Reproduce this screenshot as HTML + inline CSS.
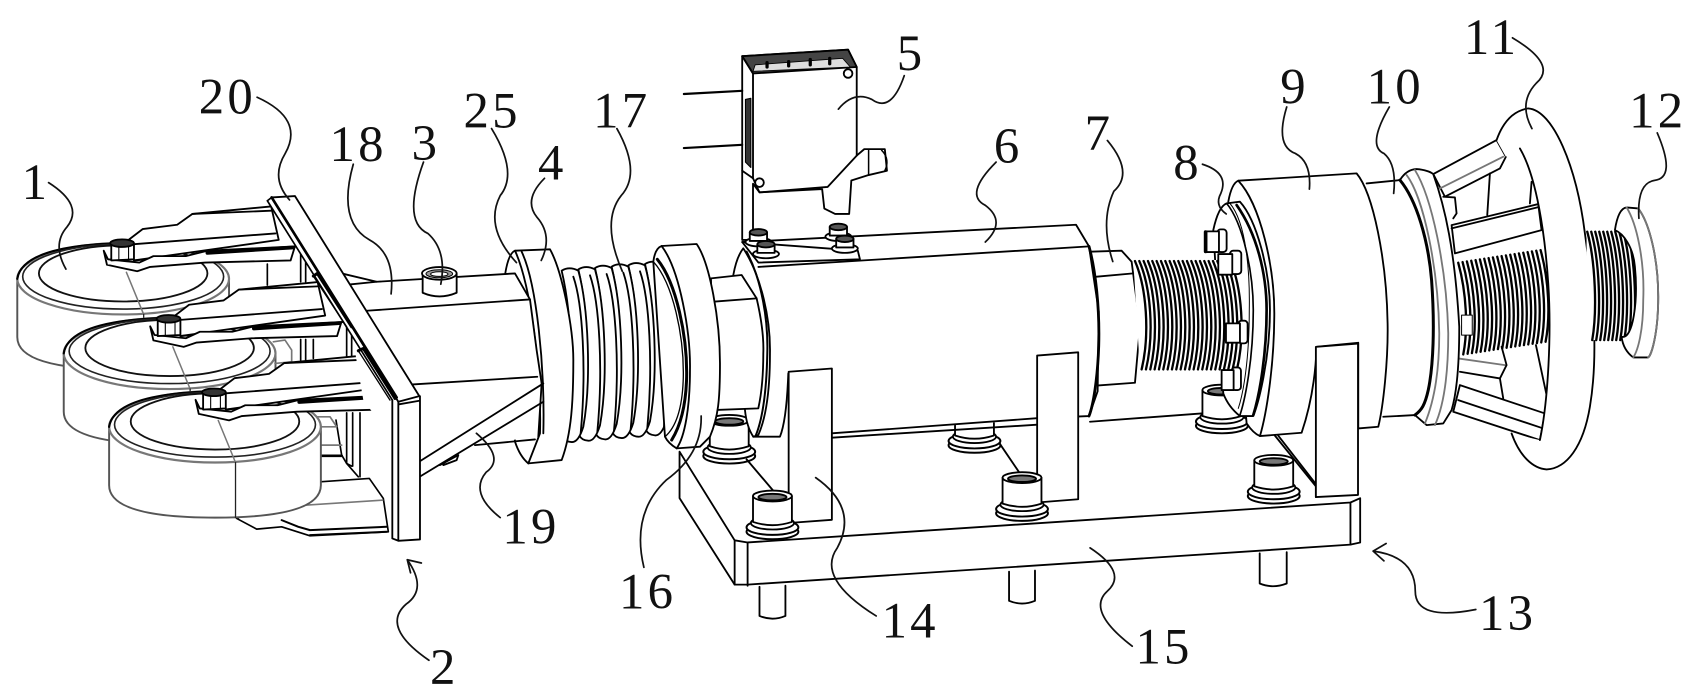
<!DOCTYPE html>
<html><head><meta charset="utf-8"><style>
html,body{margin:0;padding:0;background:#fff}
svg{display:block}
text{font-family:"Liberation Serif",serif;font-size:47px;fill:#111;stroke:none;letter-spacing:3px}
</style></head><body>
<svg width="1694" height="697" viewBox="0 0 1568 645" preserveAspectRatio="none" xmlns="http://www.w3.org/2000/svg">
<rect width="1568" height="645" fill="#fff"/>
<defs>
<g id="wheel">
<path d="M16 258V312Q16 342 114 342Q212 342 212 312V258" fill="#fff" stroke="#555" stroke-width="1.8"/>
<ellipse cx="114" cy="258" rx="98" ry="33" fill="#fff" stroke="#777" stroke-width="2"/>
<path d="M16 258C20 232 70 226 114 225" fill="none" stroke="#000" stroke-width="2"/>
<ellipse cx="114" cy="256" rx="93" ry="30" fill="none" stroke="#222" stroke-width="1.5"/>
<ellipse cx="114" cy="253" rx="78" ry="26" fill="#fff" stroke="#111" stroke-width="1.7"/>
<path d="M117 252L133 291" fill="none" stroke="#777" stroke-width="1.4"/>
<path d="M133 291V342" fill="none" stroke="#222" stroke-width="1.2"/>
</g>
<g id="arm">
<path d="M119 222L132 212L164 208L178 198L251 191L258 222L124 241Z" fill="#fff"/>
<path d="M124 226L255 216M124 241L274 228M178 198L251 195" fill="none"/>
<path d="M96 232L99 245L127 251L139 247L190 243L269 241L273 228L192 232L172 237L142 237L129 243L100 240Z" fill="#fff"/>
<path d="M192 234L271 229" stroke="#000" stroke-width="3.5" fill="none"/>
<path d="M103 227L124 226V240L103 241Z" fill="#fff"/>
<ellipse cx="113" cy="225" rx="11" ry="3.5" fill="#333"/>
<path d="M110 228V240M119 228V240" fill="none" stroke-width="1"/>
</g>
<g id="bolt">
<ellipse cx="0" cy="37" rx="24" ry="7" fill="#fff" stroke-width="1.8"/>
<ellipse cx="0" cy="33" rx="24" ry="7" fill="#fff" stroke-width="1.8"/>
<ellipse cx="0" cy="29" rx="20" ry="6" fill="#fff"/>
<path d="M-18 4V28Q0 34 18 28V4Z" fill="#fff"/>
<ellipse cx="0" cy="4" rx="18" ry="5" fill="#fff"/>
<ellipse cx="0" cy="5" rx="13" ry="3" fill="#777"/>
</g>
<g id="sb">
<ellipse cx="0" cy="10" rx="12" ry="4" fill="#fff"/>
<path d="M-8 1V9H8V1Z" fill="#fff"/>
<ellipse cx="0" cy="1" rx="8" ry="3" fill="#555"/>
</g>
<g id="conv">
<path d="M295 152Q318 138 345 152C375 260 385 480 360 620Q345 668 325 666Q305 665 298 650C330 500 330 300 295 152Z" fill="#fff"/>
<path d="M330 170C358 250 370 450 352 640" fill="none"/>
</g>
</defs>
<g fill="none" stroke="#000" stroke-width="1.7" stroke-linejoin="round" stroke-linecap="round">

<!-- wheels, forks, columns -->
<g transform="translate(212.9 175.9) scale(.3085)" stroke-width="5">
<path d="M112 222V285M212 190V275M227 190V275"/>
</g>
<use href="#wheel"/>
<use href="#arm"/>
<g transform="translate(212.9 175.9) scale(.3085)" stroke-width="5">
<path d="M350 410V500M365 410V500"/>
</g>
<use href="#wheel" transform="translate(43 69)"/>
<use href="#arm" transform="translate(43 70)"/>
<g transform="translate(212.9 175.9) scale(.3085)" stroke-width="5">
<path d="M212 448V510M227 448V510M250 448V505"/>
<path d="M130 455L165 450L185 480V515L135 520" stroke="#777"/>
<path d="M350 668V820L365 828M368 668V828M390 668V860"/>
<path d="M318 690L335 795L350 820L385 860"/>
<path d="M260 680H300L320 710H275M275 765H335" stroke="#777"/>
<path d="M275 797L335 797" stroke-width="8"/>
<path d="M270 875L418 865L460 925L475 1025L240 1037L155 1010L80 1017L20 985Z" fill="#fff"/>
<path d="M150 950L458 930" stroke="#777"/>
<path d="M155 990L205 1010L240 1020L470 1010M240 1035L470 1025" stroke-width="6"/>
</g>
<use href="#wheel" transform="translate(85 137)"/>
<use href="#arm" transform="translate(85 138)"/>

<!-- base plate -->
<path d="M629 418L692 502H1250L1259 461V502L692 542H680L629 461Z" fill="#fff" stroke="none"/>
<path d="M629 418V461L680 541H692L1250 504L1259 502V461L1250 465L692 502L680 500L629 418Z" fill="#fff"/>
<path d="M680 500V541M692 502V542M1250 465V504"/>
<path d="M703 543V570Q715 575 727 570V542M934 529V556Q946 561 958 556V528M1166 512V540Q1178 545 1191 540V511" fill="#fff"/>

<!-- rear bolts -->
<use href="#bolt" transform="translate(675 385)"/>
<use href="#bolt" transform="translate(902 375)"/>
<path d="M691 425L725 465M925 410L944 438M1180 403L1218 450"/>
<use href="#bolt" transform="translate(1131 357)"/>

<!-- shaft 7 -->
<g transform="translate(1008.9 148.1) scale(.3085)" stroke-width="5.5">
<path d="M0 275L95 272L125 305L150 500L135 668L0 678Z" fill="#fff"/>
<path d="M20 350L130 340M0 785L335 760"/>
</g>

<!-- housing 6 -->
<path d="M687 224L996 208L1008 228L1017 288L1016 362L1008 385L770 401L723 403L703 405L690 330Z" fill="#fff" stroke="none"/>
<path d="M687 224L996 208L1008 228L1017 288L1016 362L1008 385L960 387M770 401L960 387"/>
<path d="M702 247L1008 228M770 405L960 393"/>
<path d="M1008 228C1014 250 1018 285 1017 320C1016 350 1012 375 1008 385" stroke-width="2.6"/>

<!-- region A: bellows, rings, flange 16, tube -->
<g transform="translate(444.3 203.6) scale(.3085)" stroke-width="5.5">
<path d="M925 460Q920 600 900 650L820 650" fill="#fff"/>
<path d="M760 165Q770 110 790 85C845 170 872 300 870 400C870 520 855 600 835 645L820 650Q800 620 795 570Z" fill="#fff"/>
<path d="M800 95C845 180 865 300 862 400C860 500 850 590 828 645" stroke-width="6"/>
<path d="M693 175L785 165L830 235C845 300 852 350 850 400C850 470 845 520 835 565L700 570Z" fill="#fff"/>
<path d="M700 245L830 235"/>
<use href="#conv" transform="translate(200 -20)"/>
<use href="#conv" transform="translate(150 -16)"/>
<use href="#conv" transform="translate(100 -12)"/>
<use href="#conv" transform="translate(50 -8)"/>
<use href="#conv" transform="translate(0 -4)"/>
<use href="#conv" transform="translate(-50 0)"/>
<path d="M520 125Q525 85 545 78L650 72C690 130 720 300 720 430C720 540 715 590 690 650L660 680L590 685Q565 670 555 650L520 125Z" fill="#fff"/>
<path d="M545 78C600 150 632 340 630 450C630 560 615 650 590 685"/>
<path d="M532 118C590 190 622 350 620 470C618 560 600 620 575 660" stroke-width="9"/>
<path d="M520 125C580 190 612 350 610 470C608 560 590 620 555 650" stroke-width="4"/>
<!-- ring 4 -->
<path d="M75 165Q85 100 105 92L210 88C245 150 280 320 280 420C280 540 275 640 245 720L145 730Q120 710 105 665Z" fill="#fff"/>
<path d="M105 92C150 190 185 440 180 640L145 730"/>
<path d="M125 95C170 190 195 440 190 640"/>
</g>

<!-- sensor 5 -->
<path d="M687 52L785 46L793 62V144L800 138H819L821 158L804 162L788 167L786 198H773L763 193L761 175L703 178L697 170L697 222H687Z" fill="#fff"/>
<path d="M687 52L785 46L793 62L697 68Z" fill="#444"/>
<path d="M697 66L699 60L780 54L787 62Z" fill="#ddd" stroke-width=".8"/>
<path d="M710 58V62M730 57V61M750 55V60M768 54V59" stroke="#000" stroke-width="3"/>
<path d="M687 52L697 68V165L687 158"/>
<path d="M690 92L695 91V155L690 150Z" fill="#333" stroke-width="1"/>
<path d="M697 165L703 178L766 173L793 144"/>
<path d="M804 139V162M816 139C822 145 822 152 819 158" stroke-width="1.4"/>
<circle cx="785" cy="68" r="4" fill="#fff"/><circle cx="703" cy="169" r="4" fill="#fff"/>
<path d="M633 87L687 84M633 137L687 134" stroke-width="2"/>
<path d="M687 224L702 243L796 240L794 232L687 224Z" fill="#fff"/>
<use href="#sb" transform="translate(702 214)"/>
<use href="#sb" transform="translate(709 225)"/>
<use href="#sb" transform="translate(776 209)"/>
<use href="#sb" transform="translate(782 220)"/>

<!-- brackets and front bolts -->
<path d="M730 344L770 341V481L730 484Z" fill="#fff"/>
<path d="M960 329L998 326V462L960 465Z" fill="#fff"/>
<use href="#bolt" transform="translate(715 455)"/>
<use href="#bolt" transform="translate(946 438)"/>
<use href="#bolt" transform="translate(1179 422)"/>

<!-- region D: tube 18, gusset, plate 20 -->
<g transform="translate(212.9 175.9) scale(.3085)" stroke-width="5.5">
<path d="M335 250L440 275L855 250L900 328L920 480L935 580L925 740L760 760L640 825L572 858L400 630Z" fill="#fff" stroke="none"/>
<path d="M335 250L440 275L855 250L900 328L920 480L935 580L925 740"/>
<path d="M360 283L440 275M410 362L900 328M548 583L922 560"/>
<path d="M572 812L940 580M572 858L940 635"/>
<path d="M735 765L915 748M630 825L685 795L680 810L640 825"/>
<!-- bolt 3 -->
<path d="M578 250V308Q628 330 680 308V250Z" fill="#fff"/>
<ellipse cx="628" cy="250" rx="52" ry="19" fill="#fff"/>
<ellipse cx="628" cy="251" rx="40" ry="12" fill="#999" stroke-width="3"/>
<ellipse cx="628" cy="252" rx="26" ry="7" fill="#fff" stroke-width="3"/>
<!-- plate -->
<path d="M112 32L125 22L195 18L568 618V1048L505 1052L490 1045L487 630Z" fill="#fff" stroke="none"/>
<path d="M125 22L195 18L568 618L505 635L125 22Z"/>
<path d="M112 32L125 22M112 32L487 630" stroke-width="5"/>
<path d="M125 22L500 622" stroke-width="8"/>
<path d="M250 258L262 250L365 410M385 482L400 475L495 625" stroke-width="9"/>
<path d="M250 258L350 410M385 482L480 630" stroke-width="4"/>
<path d="M505 635V1052M487 630V1045L505 1052L570 1048V618M505 643L568 632"/>
</g>

<!-- region C: handwheel, threads, disk -->
<g transform="translate(1295.8 92.6) scale(.3085)" stroke-width="5.5">
<path d="M100 222L290 120L318 170L300 205L135 290Z" fill="#fff"/>
<path d="M120 265L310 170" stroke="#777"/>
<path d="M130 290L165 292L170 340L160 355" fill="#fff"/>
<path d="M270 220L262 345M395 245L390 310"/>
<path d="M155 375L415 312L425 390L165 460Z" fill="#fff"/>
<path d="M155 385L420 320"/>
<path d="M170 462H445V745H170Z" fill="#fff" stroke="none"/>
<path stroke-width="7" d="M175 488c25 90 30 200 15 275m-2-277c25 90 30 200 15 275m-2-277c25 90 30 200 15 275m-2-277c25 90 30 200 15 275m-2-277c25 90 30 200 15 275m-2-277c25 90 30 200 15 275m-2-277c25 90 30 200 15 275m-2-277c25 90 30 200 15 275m-2-277c25 90 30 200 15 275m-2-277c25 90 30 200 15 275m-2-277c25 90 30 200 15 275m-2-277c25 90 30 200 15 275m-2-277c25 90 30 200 15 275m-2-277c25 90 30 200 15 275m-2-277c25 90 30 200 15 275m-2-277c25 90 30 200 15 275m-2-277c25 90 30 200 15 275m-2-277c25 90 30 200 15 275m-2-277c25 90 30 200 15 275m-2-277c25 90 30 200 15 275"/>
<rect x="185" y="645" width="32" height="60" fill="#fff" stroke-width="3"/>
<path d="M180 780L315 795L300 835L180 815Z" fill="#fff" stroke="none"/>
<path d="M175 775L315 795" stroke="#777"/>
<path d="M180 815L300 835L320 795L305 740M300 835L310 895M408 735L440 885"/>
<path d="M180 855L435 940L420 1020L160 935Z" fill="#fff"/>
<path d="M175 900L430 985"/>
<!-- rim -->
<path d="M290 120Q320 35 385 25C460 30 530 200 555 400C590 650 590 800 570 920C550 1040 500 1105 440 1108C400 1105 360 1070 335 1000L420 1020C445 900 455 700 445 550C435 400 410 230 360 145L318 170Z" fill="#fff" stroke="none"/>
<path d="M290 120Q320 35 385 25C460 30 530 200 555 400C590 650 590 800 570 920C550 1040 500 1105 440 1108C400 1105 360 1070 335 1000"/>
<path d="M420 1020C445 900 455 700 445 550C435 400 410 230 360 145"/>
<!-- thread 12 -->
<path d="M560 395H720V720H560Z" fill="#fff" stroke="none"/>
<path stroke-width="7" d="M562 395c25 90 30 240 15 325m-3-325c25 90 30 240 15 325m-3-325c25 90 30 240 15 325m-3-325c25 90 30 240 15 325m-3-325c25 90 30 240 15 325m-3-325c25 90 30 240 15 325m-3-325c25 90 30 240 15 325m-3-325c25 90 30 240 15 325m-3-325c25 90 30 240 15 325m-3-325c25 90 30 240 15 325m-3-325c25 90 30 240 15 325m-3-320c20 90 25 230 12 315"/>
<path d="M645 390Q655 325 680 322L715 325C750 370 775 480 775 590C775 700 755 765 745 772L700 772Q670 750 665 710C700 720 715 600 705 500C700 440 670 400 645 390Z" fill="#fff"/>
<path d="M680 322C710 370 735 480 730 600C730 690 715 750 700 772" stroke="#777"/>
<path d="M715 325C750 370 775 480 775 590C775 700 755 765 745 772" stroke="#777"/>
<!-- disk -->
<path d="M0 240Q20 208 50 207Q85 210 100 222C135 320 165 450 178 680C178 800 170 880 155 930L130 970L80 975L45 945L0 600Z" fill="#fff"/>
<path d="M20 225C70 290 115 500 118 700C118 820 100 910 75 970" stroke="#777"/>
<path d="M45 210C95 290 140 500 145 700C145 830 130 920 105 975" stroke="#777"/>
<!-- section 10 -->
<path d="M-100 250L0 240C50 300 85 420 95 540C105 680 100 800 85 870C75 915 65 930 45 945L-50 950Z" fill="#fff" stroke="none"/>
<path d="M-100 250L0 240M-50 950L45 945"/>
<path d="M0 240C50 300 85 420 95 540C105 680 100 800 85 870C75 915 65 930 45 945" stroke-width="9"/>
</g>

<!-- region B: body 9, bracket, flange 8, thread, hex -->
<g transform="translate(1008.9 148.1) scale(.3085)" stroke-width="5.5">
<path d="M415 125Q425 70 445 62L800 40C850 100 890 300 893 490C895 600 880 740 865 800L805 805V548L680 560Q675 700 635 818L510 828Q490 820 470 790Z" fill="#fff"/>
<path d="M445 62C510 130 555 320 553 470C552 620 530 760 510 828"/>
<path d="M370 210Q385 140 410 130L450 125C500 180 540 330 540 450C540 600 505 730 490 768L450 768Q415 740 400 700Z" fill="#fff"/>
<path d="M410 130C460 190 490 340 490 450C490 600 465 720 450 765" stroke-width="5"/>
<path d="M420 130C470 190 480 340 478 450C478 600 460 700 445 745" stroke-width="3"/>
<path d="M440 135C500 220 530 340 530 450C530 580 510 700 490 765" stroke-width="8"/>
<path d="M130 300H465V630H150Z" fill="#fff" stroke="none"/>
<path stroke-width="7" d="M135 303c35 80 45 220 20 325m-7-325c35 80 45 220 20 325m-7-325c35 80 45 220 20 325m-7-325c35 80 45 220 20 325m-7-325c35 80 45 220 20 325m-7-325c35 80 45 220 20 325m-7-325c35 80 45 220 20 325m-7-325c35 80 45 220 20 325m-7-325c35 80 45 220 20 325m-7-325c35 80 45 220 20 325m-7-325c35 80 45 220 20 325m-7-325c35 80 45 220 20 325m-7-325c35 80 45 220 20 325m-7-325c35 80 45 220 20 325m-7-325c35 80 45 220 20 325m-7-325c35 80 45 220 20 325m-7-325c35 80 45 220 20 325m-7-325c35 80 45 220 20 325m-7-325c35 80 45 220 20 325m-7-325c35 80 45 220 20 325m-7-325c35 80 45 220 20 325m-7-325c35 80 45 220 20 325m-7-325c35 80 45 220 20 325"/>
<g fill="#fff">
<rect x="382" y="208" width="28" height="68" rx="10"/><rect x="345" y="214" width="42" height="62"/>
<path d="M347 216V274" stroke-width="11"/>
<rect x="420" y="272" width="34" height="70" rx="10"/><rect x="385" y="282" width="42" height="62"/>
<rect x="445" y="482" width="28" height="68" rx="10"/><rect x="408" y="490" width="42" height="58"/>
<rect x="425" y="622" width="28" height="68" rx="10"/><rect x="395" y="630" width="36" height="60"/>
</g>
</g>

<!-- right bracket -->
<path d="M1183 403L1218 448V460" />
<path d="M1218 321L1257 318V458L1218 460Z" fill="#fff"/>
</g>

<!-- leaders -->
<g fill="none" stroke="#111" stroke-width="1.6" stroke-linecap="round" stroke-linejoin="round">
<path d="M45 169Q78 190 62 210Q48 226 61 249"/>
<path d="M238 90Q282 110 264 142Q250 165 268 185"/>
<path d="M327 152Q312 205 342 222Q366 235 362 272"/>
<path d="M392 150Q372 205 396 216Q414 232 408 263"/>
<path d="M455 119Q480 160 463 181Q448 210 478 243"/>
<path d="M504 165Q484 185 497 201Q512 218 501 241"/>
<path d="M441 401Q468 424 450 437Q434 456 463 479"/>
<path d="M397 611Q352 580 376 559Q396 545 377 518M380 530L377 518L390 521"/>
<path d="M571 119Q594 160 575 181Q556 205 576 251"/>
<path d="M596 525Q584 475 617 444Q650 420 649 385"/>
<path d="M837 70Q825 105 807 92Q790 84 776 101"/>
<path d="M922 150Q892 180 912 190Q932 205 912 224"/>
<path d="M1025 130Q1050 160 1031 177Q1018 205 1030 242"/>
<path d="M811 570Q755 535 775 507Q795 470 755 442"/>
<path d="M1009 507Q1044 530 1025 547Q1005 565 1048 598"/>
<path d="M1113 152Q1138 160 1130 179Q1124 190 1135 198"/>
<path d="M1191 99Q1180 135 1199 142Q1214 150 1212 175"/>
<path d="M1286 99Q1265 135 1281 142Q1293 152 1290 179"/>
<path d="M1400 35Q1442 60 1422 77Q1405 95 1418 119"/>
<path d="M1534 123Q1552 165 1531 167Q1515 170 1517 202"/>
<path d="M1366 564Q1310 575 1310 547Q1310 515 1271 510M1283 503L1271 510L1281 519"/>
</g>

<!-- labels -->
<text x="20" y="184">1</text>
<text x="184" y="105">20</text>
<text x="305" y="149">18</text>
<text x="381" y="148">3</text>
<text x="429" y="118">25</text>
<text x="498" y="166">4</text>
<text x="465" y="503">19</text>
<text x="398" y="633">2</text>
<text x="549" y="118">17</text>
<text x="573" y="563">16</text>
<text x="830" y="65">5</text>
<text x="920" y="151">6</text>
<text x="1004" y="139">7</text>
<text x="816" y="590">14</text>
<text x="1051" y="614">15</text>
<text x="1086" y="166">8</text>
<text x="1185" y="96">9</text>
<text x="1265" y="96">10</text>
<text x="1355" y="50">11</text>
<text x="1508" y="118">12</text>
<text x="1369" y="583">13</text>
</svg>
</body></html>
